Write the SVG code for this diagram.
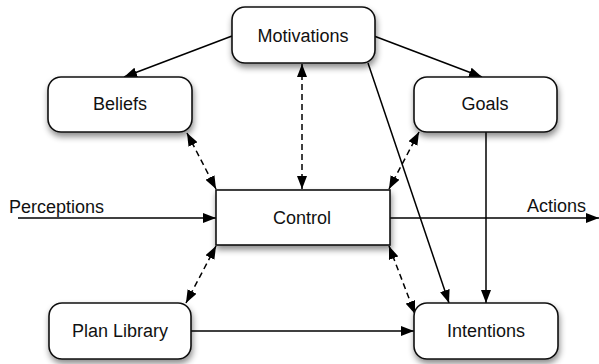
<svg xmlns="http://www.w3.org/2000/svg" width="599" height="364" viewBox="0 0 599 364">
<defs>
<style>
.box{fill:#fff;stroke:#111;stroke-width:1.6;filter:url(#sh)}
.lbl{font-family:"Liberation Sans",Arial,sans-serif;font-size:18px;fill:#111;text-anchor:middle}
.free{font-family:"Liberation Sans",Arial,sans-serif;font-size:18px;fill:#111}
.c{stroke:#000;stroke-width:1.5;fill:none}
.s{marker-end:url(#ah)}
.d{stroke-dasharray:6,4;marker-end:url(#ah);marker-start:url(#as)}
</style>
<filter id="sh" x="-20%" y="-20%" width="140%" height="160%">
<feDropShadow dx="1" dy="4" stdDeviation="3" flood-color="#000" flood-opacity="0.45"/>
</filter>
<marker id="ah" viewBox="0 0 13 10" refX="13" refY="5" markerWidth="13" markerHeight="10" markerUnits="userSpaceOnUse" orient="auto">
<path d="M0,0 L13,5 L0,10 Z" fill="#000"/>
</marker>
<marker id="as" viewBox="0 0 13 10" refX="0" refY="5" markerWidth="13" markerHeight="10" markerUnits="userSpaceOnUse" orient="auto">
<path d="M13,0 L0,5 L13,10 Z" fill="#000"/>
</marker>
</defs>
<g id="connectors">
<line class="c s" x1="232" y1="36" x2="124" y2="77"/>
<line class="c s" x1="374" y1="36" x2="482" y2="77"/>
<line class="c d" x1="302" y1="64" x2="302" y2="189"/>
<line class="c s" x1="368" y1="63" x2="449" y2="303"/>
<line class="c s" x1="486" y1="132" x2="486" y2="303"/>
<line class="c d" x1="187" y1="133" x2="216" y2="189"/>
<line class="c d" x1="419" y1="132" x2="389" y2="189"/>
<line class="c d" x1="216" y1="246" x2="186" y2="303"/>
<line class="c d" x1="389" y1="246" x2="415" y2="314"/>
<line class="c s" x1="191" y1="331" x2="414" y2="331"/>
<line class="c s" x1="18" y1="218" x2="216" y2="218"/>
<line class="c s" x1="390" y1="218" x2="599" y2="218"/>
</g>
<g id="motivations"><rect class="box" x="232" y="7" width="143" height="56" rx="13"/><text class="lbl" x="303" y="42">Motivations</text></g>
<g id="beliefs"><rect class="box" x="48" y="77" width="144" height="55" rx="13"/><text class="lbl" x="120" y="110">Beliefs</text></g>
<g id="goals"><rect class="box" x="414" y="77" width="143" height="55" rx="13"/><text class="lbl" x="485" y="110">Goals</text></g>
<g id="control"><rect class="box" x="216" y="190" width="174" height="55"/><text class="lbl" x="302" y="224">Control</text></g>
<g id="planlibrary"><rect class="box" x="49" y="303" width="142" height="56" rx="13"/><text class="lbl" x="120" y="337">Plan Library</text></g>
<g id="intentions"><rect class="box" x="414" y="303" width="144" height="56" rx="13"/><text class="lbl" x="486" y="337">Intentions</text></g>
<text class="free" x="9" y="213">Perceptions</text>
<text class="free" x="527" y="212">Actions</text>
</svg>
